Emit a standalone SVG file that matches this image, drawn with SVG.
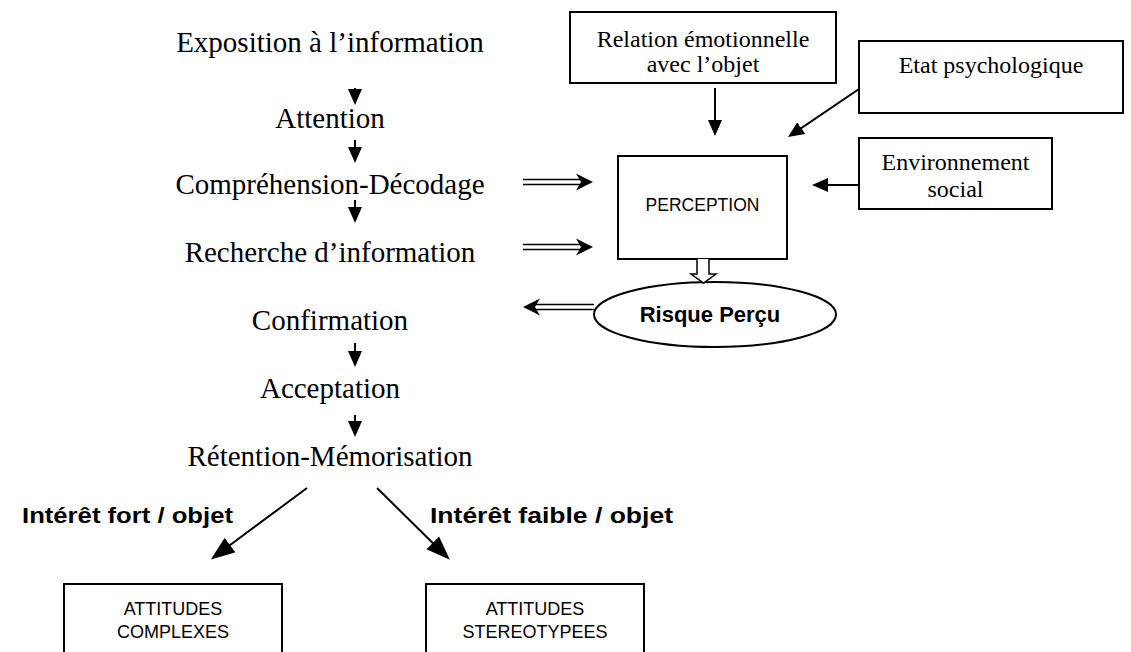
<svg xmlns="http://www.w3.org/2000/svg" width="1131" height="652" viewBox="0 0 1131 652">
  <style>
    .step { font-family: "Liberation Serif", "Times New Roman", serif; font-size: 29px; fill: #000; text-anchor: middle; }
    .box-serif { font-family: "Liberation Serif", "Times New Roman", serif; font-size: 24px; fill: #000; text-anchor: middle; }
    .box-sans { font-family: "Liberation Sans", Arial, sans-serif; font-size: 18px; fill: #000; text-anchor: middle; }
    .bold { font-family: "Liberation Sans", Arial, sans-serif; font-size: 22px; font-weight: bold; fill: #000; }
    .frame { fill: #fff; stroke: #000; stroke-width: 2; }
    .line { fill: none; stroke: #000; stroke-width: 2; }
    .thin { fill: none; stroke: #000; stroke-width: 1.5; }
    .head { fill: #000; stroke: none; }
  </style>
  <defs>
    <marker id="arr" viewBox="0 0 16 14" refX="12" refY="7" markerWidth="16" markerHeight="14" markerUnits="userSpaceOnUse" orient="auto">
      <path d="M0,0 L16,7 L0,14 Z" fill="#000"/>
    </marker>
    <marker id="arr-big" viewBox="0 0 24 18" refX="20" refY="9" markerWidth="24" markerHeight="18" markerUnits="userSpaceOnUse" orient="auto">
      <path d="M0,0 L24,9 L0,18 Z" fill="#000"/>
    </marker>
  </defs>

  <rect width="1131" height="652" fill="#fff"/>

  <!-- processing sequence -->
  <g id="exposition"><text class="step" x="330" y="52">Exposition à l’information</text></g>
  <g id="attention"><text class="step" x="330" y="128">Attention</text></g>
  <g id="comprehension"><text class="step" x="330" y="194">Compréhension-Décodage</text></g>
  <g id="recherche"><text class="step" x="330" y="262">Recherche d’information</text></g>
  <g id="confirmation"><text class="step" x="330" y="330">Confirmation</text></g>
  <g id="acceptation"><text class="step" x="330" y="398">Acceptation</text></g>
  <g id="retention"><text class="step" x="330" y="466">Rétention-Mémorisation</text></g>

  <!-- perception factors -->
  <g id="relation">
    <rect class="frame" x="570" y="12" width="266" height="71"/>
    <text class="box-serif" x="703" y="47">Relation émotionnelle</text>
    <text class="box-serif" x="703" y="72">avec l’objet</text>
  </g>
  <g id="etat">
    <rect class="frame" x="859" y="41" width="264" height="72"/>
    <text class="box-serif" x="991" y="73">Etat psychologique</text>
  </g>
  <g id="environnement">
    <rect class="frame" x="859" y="138" width="193" height="71"/>
    <text class="box-serif" x="955.5" y="170">Environnement</text>
    <text class="box-serif" x="955.5" y="197">social</text>
  </g>
  <g id="perception">
    <rect class="frame" x="618" y="156" width="169" height="103"/>
    <text class="box-sans" x="702.5" y="211" style="font-size:17.5px">PERCEPTION</text>
  </g>
  <g id="risque">
    <ellipse class="frame" cx="715" cy="314.5" rx="121" ry="32.5"/>
    <text class="bold" x="710" y="322" text-anchor="middle">Risque Perçu</text>
  </g>

  <!-- outcomes -->
  <g id="label-fort"><text class="bold" x="22" y="523" textLength="211" lengthAdjust="spacingAndGlyphs">Intérêt fort / objet</text></g>
  <g id="label-faible"><text class="bold" x="430" y="523" textLength="243" lengthAdjust="spacingAndGlyphs">Intérêt faible / objet</text></g>
  <g id="complexes">
    <rect class="frame" x="64" y="584" width="218" height="80"/>
    <text class="box-sans" x="173" y="615">ATTITUDES</text>
    <text class="box-sans" x="173" y="638">COMPLEXES</text>
  </g>
  <g id="stereotypees">
    <rect class="frame" x="426" y="584" width="218" height="80"/>
    <text class="box-sans" x="535" y="615">ATTITUDES</text>
    <text class="box-sans" x="535" y="638">STEREOTYPEES</text>
  </g>

  <g id="connectors">
    <!-- sequence arrows -->
    <line class="line" x1="355" y1="88" x2="355" y2="101" marker-end="url(#arr)"/>
    <line class="line" x1="355" y1="140" x2="355" y2="159" marker-end="url(#arr)"/>
    <line class="line" x1="355" y1="200" x2="355" y2="219" marker-end="url(#arr)"/>
    <line class="line" x1="355" y1="343" x2="355" y2="363" marker-end="url(#arr)"/>
    <line class="line" x1="355" y1="415" x2="355" y2="433" marker-end="url(#arr)"/>

    <!-- factors into perception -->
    <line class="line" x1="715" y1="88" x2="715" y2="132" marker-end="url(#arr)"/>
    <line class="line" x1="859" y1="89" x2="791.3" y2="134.8" marker-end="url(#arr)"/>
    <line class="line" x1="859" y1="185" x2="816" y2="185" marker-end="url(#arr)"/>

    <!-- double arrows towards perception -->
    <path class="thin" d="M523,179.5 H585 M523,184.5 H585"/>
    <path class="head" d="M576,173.5 L593,182 L576,190.5 L581,182 Z"/>
    <path class="thin" d="M523,244.5 H585 M523,249.5 H585"/>
    <path class="head" d="M576,238.5 L593,247 L576,255.5 L581,247 Z"/>

    <!-- hollow arrow perception to risk -->
    <path d="M697,259 V274 H691 L703.5,283 L716,274 H709 V259" fill="#fff" stroke="#000" stroke-width="1.5"/>

    <!-- double arrow from risk back to sequence -->
    <path class="thin" d="M594,304.5 H531 M594,309.5 H531"/>
    <path class="head" d="M540,298.5 L523,307 L540,315.5 L535,307 Z"/>

    <!-- branches to attitudes -->
    <line class="line" x1="307" y1="488" x2="214" y2="557" marker-end="url(#arr-big)"/>
    <line class="line" x1="377" y1="488" x2="447" y2="557" marker-end="url(#arr-big)"/>
  </g>
</svg>
